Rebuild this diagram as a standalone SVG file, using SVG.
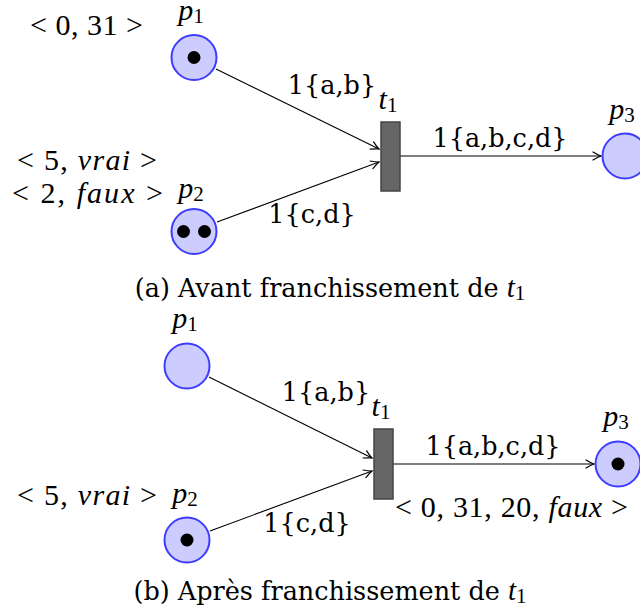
<svg xmlns="http://www.w3.org/2000/svg" width="640" height="611" viewBox="0 0 640 611">
<defs>
<style>
.place{fill:#ccccff;stroke:#3d3dff;stroke-width:2}
.tok{fill:#000}
.trans{fill:#666;stroke:#444;stroke-width:1.5}
.arc{stroke:#000;stroke-width:1.1;fill:none;marker-end:url(#arr)}
.lbl{font-family:"DejaVu Serif",serif;font-size:25.5px;fill:#000}
.math{font-family:"Liberation Serif","Times New Roman",serif;font-size:30px;fill:#000}
.it{font-style:italic}
.sub{font-size:21px}
</style>
<marker id="arr" markerUnits="userSpaceOnUse" viewBox="-10 -6 12 12" markerWidth="12" markerHeight="12" refX="0" refY="0" orient="auto">
<path d="M-8,-4 Q-3,-1 0,0 Q-3,1 -8,4" fill="none" stroke="#000" stroke-width="1.2" stroke-linecap="round"/>
</marker>
</defs>
<rect width="640" height="611" fill="#fff"/>

<!-- (a) -->
<g id="connectors-a">
<line class="arc" x1="216" y1="69" x2="379" y2="149"/>
<line class="arc" x1="217" y1="222" x2="379" y2="162"/>
<line class="arc" x1="400" y1="156" x2="601" y2="156"/>
<text class="lbl" x="332" y="94" text-anchor="middle">1{a,b}</text>
<text class="lbl" x="312" y="223" text-anchor="middle">1{c,d}</text>
<text class="lbl" x="500" y="147" text-anchor="middle">1{a,b,c,d}</text>
</g>
<g id="a-p1">
<circle class="place" cx="194" cy="57.5" r="22.5"/>
<circle class="tok" cx="194" cy="57.5" r="6.5"/>
<text class="math" x="191" y="20" text-anchor="middle"><tspan class="it">p</tspan><tspan class="sub" dy="3">1</tspan></text>
<text class="math" x="30" y="35" textLength="113" lengthAdjust="spacing">&lt; 0, 31 &gt;</text>
</g>
<g id="a-p2">
<circle class="place" cx="194" cy="231.5" r="22.5"/>
<circle class="tok" cx="183.5" cy="231.5" r="6.5"/>
<circle class="tok" cx="204.5" cy="231.5" r="6.5"/>
<text class="math" x="191" y="198" text-anchor="middle"><tspan class="it">p</tspan><tspan class="sub" dy="3">2</tspan></text>
<text class="math" x="17" y="170" textLength="140" lengthAdjust="spacing">&lt; 5, <tspan class="it">vrai</tspan> &gt;</text>
<text class="math" x="12" y="203" textLength="151" lengthAdjust="spacing">&lt; 2, <tspan class="it">faux</tspan> &gt;</text>
</g>
<g id="a-t1">
<rect class="trans" x="381" y="122" width="19" height="69"/>
<text class="math" x="388" y="109" text-anchor="middle"><tspan class="it">t</tspan><tspan class="sub" dy="3">1</tspan></text>
</g>
<g id="a-p3">
<circle class="place" cx="625" cy="156" r="22.5"/>
<text class="math" x="622" y="119" text-anchor="middle"><tspan class="it">p</tspan><tspan class="sub" dy="3">3</tspan></text>
</g>
<text class="lbl" x="330" y="297" text-anchor="middle">(a) Avant franchissement de <tspan class="math it" style="font-size:29px">t</tspan><tspan class="math sub" dy="3">1</tspan></text>

<!-- (b) -->
<g id="connectors-b">
<line class="arc" x1="209" y1="377" x2="372" y2="458"/>
<line class="arc" x1="210" y1="531" x2="372" y2="471"/>
<line class="arc" x1="393" y1="464" x2="594" y2="464"/>
<text class="lbl" x="326" y="401" text-anchor="middle">1{a,b}</text>
<text class="lbl" x="307" y="532" text-anchor="middle">1{c,d}</text>
<text class="lbl" x="493" y="455" text-anchor="middle">1{a,b,c,d}</text>
</g>
<g id="b-p1">
<circle class="place" cx="187" cy="366" r="22.5"/>
<text class="math" x="185" y="328" text-anchor="middle"><tspan class="it">p</tspan><tspan class="sub" dy="3">1</tspan></text>
</g>
<g id="b-p2">
<circle class="place" cx="187" cy="540" r="22.5"/>
<circle class="tok" cx="187" cy="540" r="6.5"/>
<text class="math" x="185" y="503" text-anchor="middle"><tspan class="it">p</tspan><tspan class="sub" dy="3">2</tspan></text>
<text class="math" x="17" y="505" textLength="140" lengthAdjust="spacing">&lt; 5, <tspan class="it">vrai</tspan> &gt;</text>
</g>
<g id="b-t1">
<rect class="trans" x="374" y="429" width="19" height="70"/>
<text class="math" x="381" y="416" text-anchor="middle"><tspan class="it">t</tspan><tspan class="sub" dy="3">1</tspan></text>
</g>
<g id="b-p3">
<circle class="place" cx="618" cy="464" r="22.5"/>
<circle class="tok" cx="618" cy="464" r="6.5"/>
<text class="math" x="616" y="426" text-anchor="middle"><tspan class="it">p</tspan><tspan class="sub" dy="3">3</tspan></text>
<text class="math" x="395" y="517" textLength="233" lengthAdjust="spacing">&lt; 0, 31, 20, <tspan class="it">faux</tspan> &gt;</text>
</g>
<text class="lbl" x="330" y="600" text-anchor="middle">(b) Après franchissement de <tspan class="math it" style="font-size:29px">t</tspan><tspan class="math sub" dy="3">1</tspan></text>
</svg>
